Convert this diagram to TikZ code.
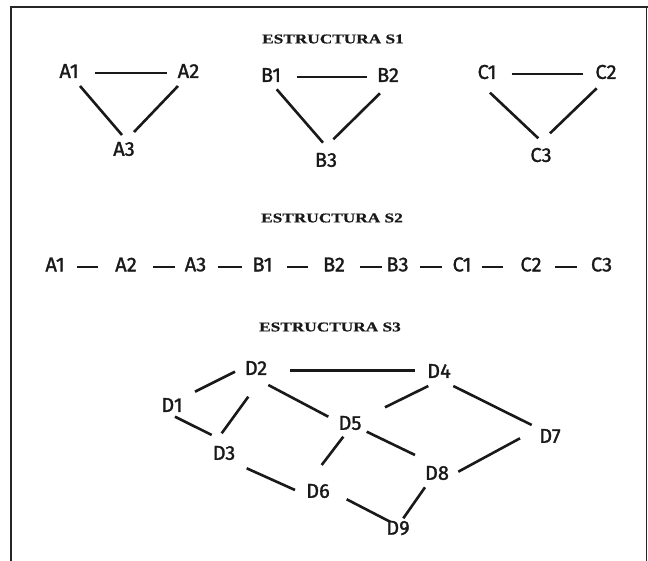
\documentclass[tikz,border=0pt]{standalone}
\usepackage{fontspec}
\setmainfont{Fira Sans}
\newfontfamily\lblfont{Fira Sans}[FakeBold=1.4]
\newfontfamily\titlefont{Liberation Serif}[FakeBold=0.6]
\begin{document}
\begin{tikzpicture}[x=1pt,y=-1pt,
  lbl/.style={font=\lblfont\fontsize{20}{20}\selectfont, inner sep=0pt, text=black!90},
  ttl/.style={font=\titlefont\bfseries\fontsize{13.5}{13.5}\selectfont, inner sep=0pt, text=black!90},
  tri/.style={line width=2.6pt, draw=black!90},
  flat/.style={line width=2.1pt, draw=black!90},
  dsh/.style={line width=2pt, draw=black!90},
  dedge/.style={line width=2.6pt, draw=black!90},
  frame/.style={line width=1.3pt, draw=black!85}]
\useasboundingbox (0,0) rectangle (648,561);
\fill[white] (0,0) rectangle (648,561);
% frame
\draw[frame] (11,561) -- (11,7) -- (648,7);
\draw[frame] (646.5,7) -- (646.5,561);
% titles
\node[ttl] (t1) at (333,39) {\scalebox{1.28}[1]{ESTRUCTURA S1}};
\node[ttl] (t2) at (332,218) {\scalebox{1.28}[1]{ESTRUCTURA S2}};
\node[ttl] (t3) at (330,327) {\scalebox{1.28}[1]{ESTRUCTURA S3}};
% structure S1
\node[lbl] (a1) at (69,71) {A1};
\node[lbl] (a2) at (188.5,71) {A2};
\node[lbl] (a3) at (124,149) {A3};
\node[lbl] (b1) at (271,75) {B1};
\node[lbl] (b2) at (388,75) {B2};
\node[lbl] (b3) at (326,160) {B3};
\node[lbl] (c1) at (487,72) {C1};
\node[lbl] (c2) at (606,72) {C2};
\node[lbl] (c3) at (541,155) {C3};
\draw[flat] ([shift={(26,2)}]a1.center) -- ([shift={(-21.5,2)}]a2.center);
\draw[tri] ([shift={(11,15)}]a1.center) -- ([shift={(-2,-14)}]a3.center);
\draw[tri] ([shift={(-10.5,15)}]a2.center) -- ([shift={(10,-17)}]a3.center);
\draw[flat] ([shift={(26,2)}]b1.center) -- ([shift={(-21,2)}]b2.center);
\draw[tri] ([shift={(5.7,14.3)}]b1.center) -- ([shift={(-3,-17.3)}]b3.center);
\draw[tri] ([shift={(-8,18.3)}]b2.center) -- ([shift={(7.3,-20.7)}]b3.center);
\draw[flat] ([shift={(24.7,2)}]c1.center) -- ([shift={(-22.7,2)}]c2.center);
\draw[tri] ([shift={(3,20.7)}]c1.center) -- ([shift={(-2.7,-16.7)}]c3.center);
\draw[tri] ([shift={(-9.3,16.3)}]c2.center) -- ([shift={(9,-21.7)}]c3.center);
% structure S2
\node[lbl] (r1) at (55,264.5) {A1};
\node[lbl] (r2) at (126,264.5) {A2};
\node[lbl] (r3) at (195.5,264.5) {A3};
\node[lbl] (r4) at (262.5,264.5) {B1};
\node[lbl] (r5) at (334,264.5) {B2};
\node[lbl] (r6) at (397.5,264.5) {B3};
\node[lbl] (r7) at (462,264.5) {C1};
\node[lbl] (r8) at (531,264.5) {C2};
\node[lbl] (r9) at (601.5,264.5) {C3};
\draw[dsh] ([shift={(22,3)}]r1.center) -- ([shift={(-28,3)}]r2.center);
\draw[dsh] ([shift={(27,3)}]r2.center) -- ([shift={(-20.5,3)}]r3.center);
\draw[dsh] ([shift={(22.5,3)}]r3.center) -- ([shift={(-20.5,3)}]r4.center);
\draw[dsh] ([shift={(24.5,3)}]r4.center) -- ([shift={(-26,3)}]r5.center);
\draw[dsh] ([shift={(26,3)}]r5.center) -- ([shift={(-15.5,3)}]r6.center);
\draw[dsh] ([shift={(22.5,3)}]r6.center) -- ([shift={(-20,3)}]r7.center);
\draw[dsh] ([shift={(20,3)}]r7.center) -- ([shift={(-28,3)}]r8.center);
\draw[dsh] ([shift={(24,3)}]r8.center) -- ([shift={(-24.5,3)}]r9.center);
% structure S3
\node[lbl] (d1) at (172,405) {D1};
\node[lbl] (d2) at (256,368) {D2};
\node[lbl] (d3) at (224,453) {D3};
\node[lbl] (d4) at (439,371) {D4};
\node[lbl] (d5) at (350,423) {D5};
\node[lbl] (d6) at (318,491) {D6};
\node[lbl] (d7) at (550,436) {D7};
\node[lbl] (d8) at (437,473) {D8};
\node[lbl] (d9) at (398,528) {D9};
\draw[dedge] ([shift={(23,-13.3)}]d1.center) -- ([shift={(-21,3.7)}]d2.center);
\draw[dedge] ([shift={(3,11.7)}]d1.center) -- ([shift={(-12.3,-18)}]d3.center);
\draw[dedge] ([shift={(-7.7,28.7)}]d2.center) -- ([shift={(-2.3,-19.7)}]d3.center);
\draw[dedge] ([shift={(34,2.7)}]d2.center) -- ([shift={(-24,-0.3)}]d4.center);
\draw[dedge] ([shift={(12.3,17)}]d2.center) -- ([shift={(-21.7,-6.3)}]d5.center);
\draw[dedge] ([shift={(-10.7,15)}]d4.center) -- ([shift={(35,-15.7)}]d5.center);
\draw[dedge] ([shift={(14.3,15)}]d4.center) -- ([shift={(-18.3,-11)}]d7.center);
\draw[dedge] ([shift={(-6.7,13.7)}]d5.center) -- ([shift={(3.7,-26)}]d6.center);
\draw[dedge] ([shift={(16.7,8.7)}]d5.center) -- ([shift={(-22,-18)}]d8.center);
\draw[dedge] ([shift={(-30,2.3)}]d7.center) -- ([shift={(21.3,-1.3)}]d8.center);
\draw[dedge] ([shift={(22.7,15.3)}]d3.center) -- ([shift={(-23,-1)}]d6.center);
\draw[dedge] ([shift={(28.7,8.3)}]d6.center) -- ([shift={(-8,-6.3)}]d9.center);
\draw[dedge] ([shift={(-12,14.3)}]d8.center) -- ([shift={(5.3,-9.7)}]d9.center);
\end{tikzpicture}
\end{document}
